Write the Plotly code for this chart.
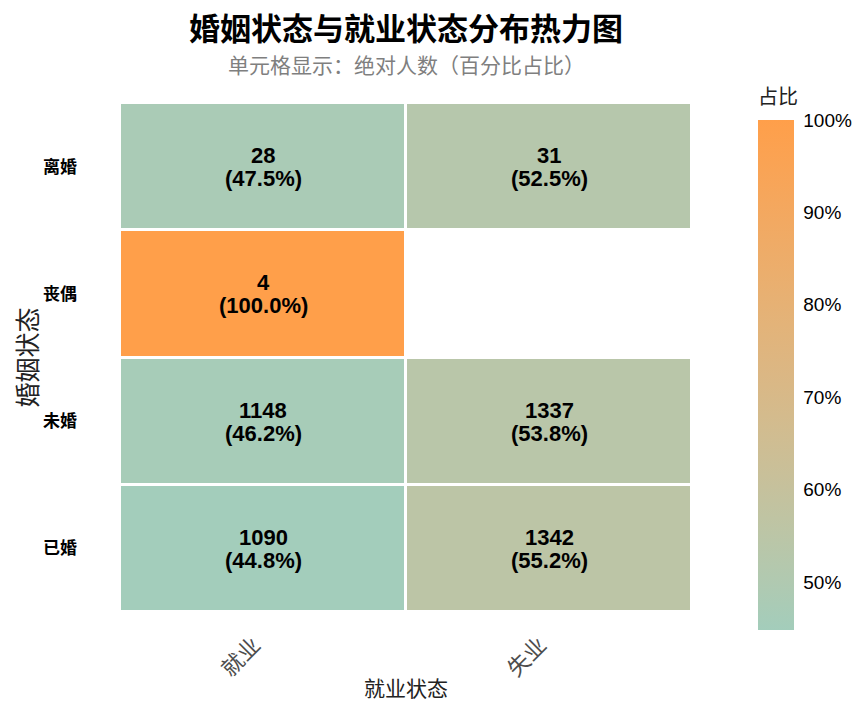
import plotly.graph_objects as go
import numpy as np

# ---- data ----
marital = ["已婚", "未婚", "丧偶", "离婚"]          # bottom -> top
employment = ["就业", "失业"]
counts = [[1090, 1342], [1148, 1337], [4, None], [28, 31]]
pcts = [[44.8, 55.2], [46.2, 53.8], [100.0, None], [47.5, 52.5]]
cbar_ticks = [0.5, 0.6, 0.7, 0.8, 0.9, 1.0]

# ---- colour helper: Lab interpolation like ggplot gradient ----
def hex2rgb(h):
    h = h.lstrip("#")
    return [int(h[i:i+2], 16) / 255 for i in (0, 2, 4)]

def srgb2lin(c):
    c = np.array(c)
    return np.where(c <= 0.04045, c / 12.92, ((c + 0.055) / 1.055) ** 2.4)

def lin2srgb(c):
    c = np.clip(c, 0, 1)
    return np.where(c <= 0.0031308, c * 12.92, 1.055 * c ** (1 / 2.4) - 0.055)

M = np.array([[0.4124, 0.3576, 0.1805], [0.2126, 0.7152, 0.0722], [0.0193, 0.1192, 0.9505]])
Mi = np.linalg.inv(M)
WP = np.array([0.95047, 1.0, 1.08883])

def rgb2lab(rgb):
    xyz = M @ srgb2lin(rgb) / WP
    f = np.where(xyz > 0.008856, np.cbrt(xyz), 7.787 * xyz + 16 / 116)
    return np.array([116 * f[1] - 16, 500 * (f[0] - f[1]), 200 * (f[1] - f[2])])

def lab2rgb(lab):
    fy = (lab[0] + 16) / 116
    fx = fy + lab[1] / 500
    fz = fy - lab[2] / 200
    f = np.array([fx, fy, fz])
    xyz = np.where(f ** 3 > 0.008856, f ** 3, (f - 16 / 116) / 7.787) * WP
    return lin2srgb(Mi @ xyz)

low, high = rgb2lab(hex2rgb("#A3CDBB")), rgb2lab(hex2rgb("#FF9F4A"))
cscale = []
for t in np.linspace(0, 1, 11):
    r, g, b = (lab2rgb(low + (high - low) * t) * 255).round().astype(int)
    cscale.append([float(t), f"rgb({r},{g},{b})"])

z = [[None if p is None else p / 100 for p in row] for row in pcts]

fig = go.Figure(go.Heatmap(
    z=z, x=employment, y=marital,
    colorscale=cscale, zmin=0.448, zmax=1.0, xgap=3, ygap=3,
    hoverongaps=False,
    colorbar=dict(
        title=dict(text="占比", side="top", font=dict(family="Noto Sans CJK SC", size=20, color="#222")),
        tickvals=cbar_ticks, tickformat=".0%",
        tickfont=dict(family="Liberation Sans, Arial", size=19, color="black"),
        ticks="outside", tickcolor="white", ticklen=6,
        thickness=36, lenmode="pixels", len=544,
        x=(750 - 112) / 572, xanchor="left", xpad=0, y=(604 - 622) / 509, yanchor="bottom", ypad=0,
        outlinewidth=0,
    ),
))

annotations = []
cell_font = dict(family="Liberation Sans, Arial", size=22, color="black")
for yi, m in enumerate(marital):
    for xi, e in enumerate(employment):
        c, p = counts[yi][xi], pcts[yi][xi]
        if c is None:
            continue
        annotations.append(dict(x=e, y=m, text=f"<b>{c}</b>", showarrow=False, yshift=11, font=cell_font))
        annotations.append(dict(x=e, y=m, text=f"<b>({p:.1f}%)</b>", showarrow=False, yshift=-12, font=cell_font))

annotations.append(dict(text="<b>婚姻状态与就业状态分布热力图</b>", xref="paper", yref="paper",
                        x=0.5, y=1.0 + (95 - 18) / 509, xanchor="center", yanchor="middle",
                        showarrow=False, font=dict(family="Noto Sans CJK SC", size=31, color="black")))
annotations.append(dict(text="单元格显示：绝对人数（百分比占比）", xref="paper", yref="paper",
                        x=0.5, y=1.0 + (95 - 56) / 509, xanchor="center", yanchor="middle",
                        showarrow=False, font=dict(family="Noto Sans CJK SC", size=21, color="#7f7f7f")))

fig.update_layout(
    width=864, height=705,
    margin=dict(l=112, r=180, t=95, b=101),
    paper_bgcolor="white", plot_bgcolor="white",
    annotations=annotations,
    xaxis=dict(title=dict(text="就业状态", font=dict(family="Noto Sans CJK SC", size=21, color="#222"), standoff=0),
               tickangle=-45, tickfont=dict(family="Noto Sans CJK SC", size=22, color="#4d4d4d"),
               ticklabelshift=-9, ticklabelstandoff=15, automargin=False,
               showgrid=False, zeroline=False, ticks="", ticklen=0),
    yaxis=dict(title=dict(text="婚姻状态", font=dict(family="Noto Sans CJK SC", size=25, color="#222"), standoff=11),
               tickfont=dict(family="Noto Sans CJK SC", size=17, color="black", weight="bold"),
               ticklabelstandoff=42, automargin=False,
               showgrid=False, zeroline=False, ticks="", ticklen=0),
)

fig.write_html("out.html")
